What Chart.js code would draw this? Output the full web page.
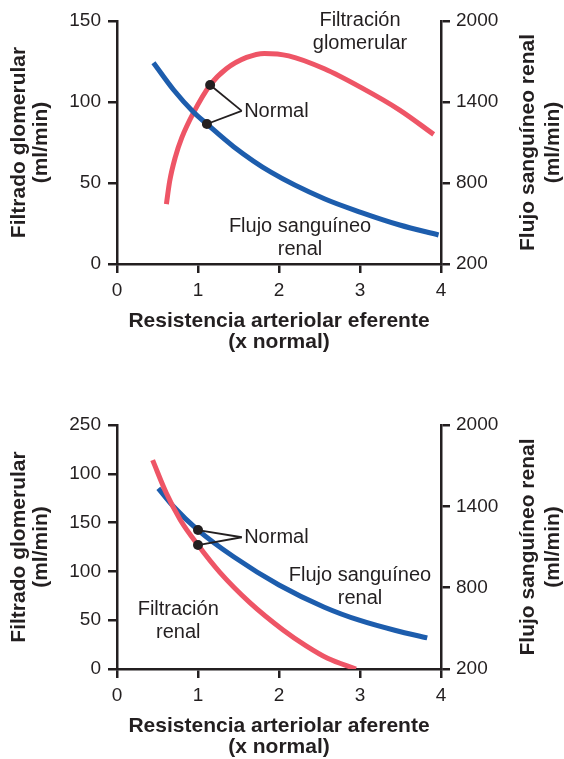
<!DOCTYPE html>
<html>
<head>
<meta charset="utf-8">
<script src="https://cdn.jsdelivr.net/npm/chart.js@4.4.1/dist/chart.umd.min.js"></script>
<style>
  body { margin: 0; background: #fff; }
  .panel { position: absolute; left: 0; width: 564px; }
</style>
</head>
<body>
<div class="panel" style="top:0"><canvas id="efferentChart" width="564" height="380"></canvas></div>
<div class="panel" style="top:380px"><canvas id="afferentChart" width="564" height="379"></canvas></div>

<script>
// Datos - resistencia arteriolar eferente (arriba)
const effGfrX = [0.61, 0.65, 0.72, 0.80, 0.94, 1.15, 1.35, 1.60, 1.82, 2.12, 2.56, 3.01, 3.49, 3.91];
const effGfrY = [37, 51, 66, 78, 93, 110.5, 120.5, 127.5, 130, 128.5, 120.5, 109, 95, 80];
const effRbfX = [0.45, 0.70, 0.94, 1.11, 1.44, 1.90, 2.56, 3.01, 3.49, 3.97];
const effRbfY = [1691, 1489, 1328, 1237, 1069, 880, 683, 583, 489, 415];
const effNormalX = [1.15, 1.11];
const effNormalY = [110.5, 1237];

// Datos - resistencia arteriolar aferente (abajo)
const affGfrX = [0.44, 0.61, 0.78, 1.0, 1.27, 1.64, 2.05, 2.33, 2.60, 2.95];
const affGfrY = [214, 180, 153, 127, 99, 68, 40, 24, 11, 0];
const affRbfX = [0.51, 0.70, 1.0, 1.44, 2.0, 2.56, 3.0, 3.44, 3.83];
const affRbfY = [1533, 1397, 1225, 1028, 820, 656, 558, 484, 430];
const affNormalX = [1.0, 1.0];
const affNormalY = [127, 1225];

// Etiquetas de los ejes
const xTickLabels = ["0", "1", "2", "3", "4"];
const effLeftTicks = ["0", "50", "100", "150"];
const affLeftTicks = ["0", "50", "100", "150", "100", "250"];
const rbfTicks = ["200", "800", "1400", "2000"];

const RED = "#ee5566";
const BLUE = "#1d5dad";
const INK = "#231f20";
const FONT = "'Liberation Sans', Arial, Helvetica, sans-serif";

function pts(xs, ys) {
  return xs.map((x, i) => ({ x: x, y: ys[i] }));
}

// Textos, conectores "Normal" y titulos de ejes
const figurePlugin = {
  id: "figure",
  afterDatasetsDraw(chart, args, opts) {
    const ctx = chart.ctx;
    const a = chart.chartArea;
    const sx = chart.scales.x;
    const sy = chart.scales.y;
    ctx.save();

    // lineas desde los puntos hasta "Normal"
    const jx = sx.getPixelForValue(opts.junction[0]);
    const jy = sy.getPixelForValue(opts.junction[1]);
    ctx.strokeStyle = INK;
    ctx.lineWidth = 1.8;
    const dots = chart.getDatasetMeta(0).data.concat(chart.getDatasetMeta(1).data);
    dots.forEach((p) => {
      ctx.beginPath();
      ctx.moveTo(p.x, p.y);
      ctx.lineTo(jx, jy);
      ctx.stroke();
    });

    // textos dentro del grafico
    ctx.fillStyle = INK;
    ctx.font = "20px " + FONT;
    ctx.textBaseline = "middle";
    opts.notes.forEach((n) => {
      ctx.textAlign = n.align || "center";
      const px = sx.getPixelForValue(n.x);
      const py = sy.getPixelForValue(n.y);
      n.lines.forEach((t, i) => ctx.fillText(t, px, py + i * 23));
    });

    // titulos de ejes
    ctx.font = "bold 21px " + FONT;
    ctx.textAlign = "center";
    const cx = (a.left + a.right) / 2;
    ctx.fillText(opts.xTitle, cx, a.bottom + 57);
    ctx.fillText("(x normal)", cx, a.bottom + 78);

    const cy = (a.top + a.bottom) / 2;
    [[19, "Filtrado glomerular"], [41, "(ml/min)"], [528, "Flujo sanguíneo renal"], [553, "(ml/min)"]].forEach((t) => {
      ctx.save();
      ctx.translate(t[0], cy);
      ctx.rotate(-Math.PI / 2);
      ctx.fillText(t[1], 0, 0);
      ctx.restore();
    });
    ctx.restore();
  },
};

function axisStyle() {
  return {
    border: { display: true, color: INK, width: 2.5 },
    grid: { drawOnChartArea: false, drawTicks: true, tickLength: 9, color: INK, lineWidth: 2.5 },
  };
}

function makeChart(id, cfg) {
  const el = document.getElementById(id);
  return new Chart(el, {
    type: "line",
    data: {
      datasets: [
        {
          data: [{ x: cfg.normalX[0], y: cfg.normalY[0] }],
          yAxisID: "y",
          showLine: false,
          pointRadius: 5,
          pointBackgroundColor: INK,
          pointBorderWidth: 0,
        },
        {
          data: [{ x: cfg.normalX[1], y: cfg.normalY[1] }],
          yAxisID: "y1",
          showLine: false,
          pointRadius: 5,
          pointBackgroundColor: INK,
          pointBorderWidth: 0,
        },
        cfg.redOnTop ? cfg.gfr : cfg.rbf,
        cfg.redOnTop ? cfg.rbf : cfg.gfr,
      ],
    },
    options: {
      responsive: false,
      animation: false,
      layout: { padding: { top: cfg.top, left: 0, right: 0, bottom: 0 } },
      plugins: {
        legend: { display: false },
        tooltip: { enabled: false },
        figure: cfg.figure,
      },
      scales: {
        x: Object.assign(axisStyle(), {
          type: "linear",
          min: 0,
          max: 4,
          ticks: {
            stepSize: 1,
            padding: 6,
            color: INK,
            font: { family: FONT, size: 19 },
            callback: (v, i) => xTickLabels[i],
          },
          afterFit: (s) => { s.height = cfg.xHeight; },
        }),
        y: Object.assign(axisStyle(), {
          position: "left",
          min: 0,
          max: cfg.leftMax,
          ticks: {
            stepSize: 50,
            padding: 7,
            color: INK,
            font: { family: FONT, size: 19 },
            callback: (v, i) => cfg.leftTicks[i],
          },
          afterFit: (s) => { s.width = 117; },
        }),
        y1: Object.assign(axisStyle(), {
          position: "right",
          min: 200,
          max: 2000,
          ticks: {
            stepSize: 600,
            padding: 6,
            color: INK,
            font: { family: FONT, size: 19 },
            callback: (v, i) => rbfTicks[i],
          },
          afterFit: (s) => { s.width = 123; },
        }),
      },
    },
    plugins: [figurePlugin],
  });
}

function curve(xs, ys, color, axis) {
  return {
    data: pts(xs, ys),
    yAxisID: axis,
    borderColor: color,
    borderWidth: 5,
    pointRadius: 0,
    fill: false,
    cubicInterpolationMode: "monotone",
    borderCapStyle: "butt",
  };
}

document.addEventListener("DOMContentLoaded", function () {
  // Grafico superior: resistencia eferente
  makeChart("efferentChart", {
    top: 21,
    xHeight: 116,
    leftMax: 150,
    leftTicks: effLeftTicks,
    normalX: effNormalX,
    normalY: effNormalY,
    redOnTop: false,
    gfr: curve(effGfrX, effGfrY, RED, "y"),
    rbf: curve(effRbfX, effRbfY, BLUE, "y1"),
    figure: {
      junction: [1.54, 94.5],
      xTitle: "Resistencia arteriolar eferente",
      notes: [
        { lines: ["Normal"], x: 1.57, y: 94, align: "left" },
        { lines: ["Filtración", "glomerular"], x: 3.0, y: 150.6 },
        { lines: ["Flujo sanguíneo", "renal"], x: 2.26, y: 23.4 },
      ],
    },
  });

  // Grafico inferior: resistencia aferente
  makeChart("afferentChart", {
    top: 45,
    xHeight: 90,
    leftMax: 250,
    leftTicks: affLeftTicks,
    normalX: affNormalX,
    normalY: affNormalY,
    redOnTop: true,
    gfr: curve(affGfrX, affGfrY, RED, "y"),
    rbf: curve(affRbfX, affRbfY, BLUE, "y1"),
    figure: {
      junction: [1.54, 135],
      xTitle: "Resistencia arteriolar aferente",
      notes: [
        { lines: ["Normal"], x: 1.57, y: 135, align: "left" },
        { lines: ["Flujo sanguíneo", "renal"], x: 3.0, y: 96.3 },
        { lines: ["Filtración", "renal"], x: 0.756, y: 60.5 },
      ],
    },
  });
});
</script>
</body>
</html>
